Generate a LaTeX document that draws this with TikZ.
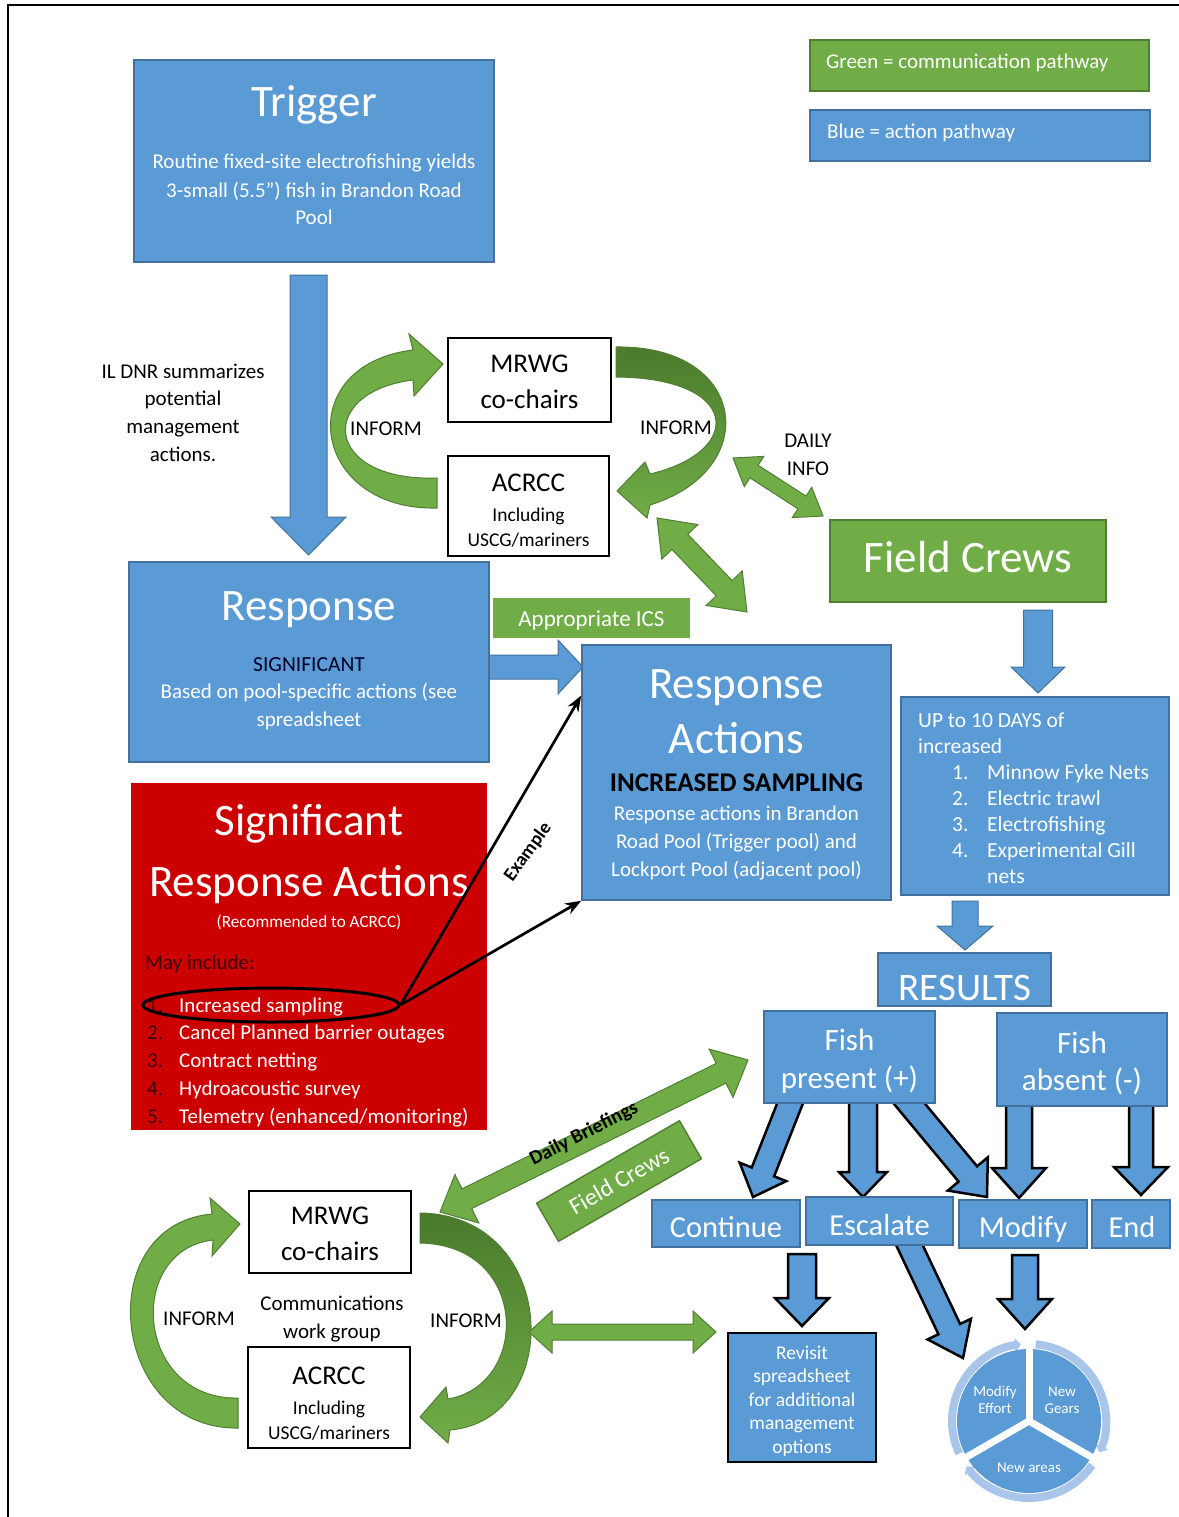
\documentclass[tikz,border=0pt]{standalone}
\usepackage{fontspec}
\setmainfont{Carlito}
\usetikzlibrary{calc,fit,arrows.meta,shapes.geometric}
\definecolor{bfill}{HTML}{5B9BD5}
\definecolor{bline}{HTML}{41719C}
\definecolor{gfill}{HTML}{70AD47}
\definecolor{gline}{HTML}{507E32}
\definecolor{gdark}{HTML}{4A7A2C}
\definecolor{rfill}{HTML}{CC0000}
\definecolor{ringc}{HTML}{A9C5EA}
\definecolor{darkt}{HTML}{3A0808}
\newcommand\fs[1]{\fontsize{#1}{#1}\selectfont}
% block arrow: style, from, to, shaft half width, head half width, head length
\newcommand\fatarrow[6]{%
 \coordinate (fac) at ($(#3)!#6!(#2)$);
 \path[#1] ($(#2)!#4!90:(#3)$) -- ($(fac)!#4!-90:(#2)$) -- ($(fac)!#5!-90:(#2)$) -- (#3) -- ($(fac)!#5!90:(#2)$) -- ($(fac)!#4!90:(#2)$) -- ($(#2)!#4!-90:(#3)$) -- cycle;}
\newcommand\dblarrow[6]{%
 \coordinate (fac) at ($(#3)!#6!(#2)$);
 \coordinate (fad) at ($(#2)!#6!(#3)$);
 \path[#1] (#2) -- ($(fad)!#5!90:(#3)$) -- ($(fad)!#4!90:(#3)$) -- ($(fac)!#4!-90:(#2)$) -- ($(fac)!#5!-90:(#2)$) -- (#3) -- ($(fac)!#5!90:(#2)$) -- ($(fac)!#4!90:(#2)$) -- ($(fad)!#4!-90:(#3)$) -- ($(fad)!#5!-90:(#3)$) -- cycle;}
% text lines: name, x, first baseline y, line step, style, lines
\newcommand\tl[6]{\foreach \tline [count=\ti from 0] in {#6} {\node[#5] (#1\ti) at (#2,{#3+\ti*#4}) {\tline};}}
\tikzset{
 bluebox/.style={fill=bfill, draw=bline, line width=1.6pt, inner sep=0pt},
 greenbox/.style={fill=gfill, draw=gline, line width=1.4pt, inner sep=0pt},
 whitebox/.style={fill=white, draw=black, line width=2pt, inner sep=0pt},
 redbox/.style={fill=rfill, inner sep=0pt},
 revbox/.style={fill=bfill, draw=black, line width=2.5pt, inner sep=0pt},
 txt/.style={inner sep=0pt, anchor=base},
 wt/.style={txt, text=white},
 bt/.style={txt, text=black},
 barrow/.style={fill=bfill, draw=bline, line width=1pt},
 karrow/.style={fill=bfill, draw=black, line width=2.5pt, line join=miter},
 garrow/.style={fill=gfill, draw=gline, line width=1pt},
 garrowd/.style={top color=gdark, bottom color=gfill, draw=gline, line width=1pt},
 pointer/.style={draw=black, line width=2.7pt, -{Stealth[length=16pt,width=12pt]}},
 ringarc/.style={draw=ringc, line width=8pt, -{Triangle[length=6pt,width=14pt]}}
}
\begin{document}
\begin{tikzpicture}[x=1pt,y=-1pt]
\useasboundingbox (0,0) rectangle (1178,1517);
\draw[line width=2pt] (8,1520) -- (8,5) -- (1180,5);

% ---------- legend
\node[greenbox, fit={(810,40) (1149,91)}] (lg) {};
\node[wt, anchor=base west, font=\fs{21}] (lgt) at (826,69) {Green = communication pathway};
\node[bluebox, fit={(810,110) (1150,161)}] (lb) {};
\node[wt, anchor=base west, font=\fs{21}] (lbt) at (827,139) {Blue = action pathway};

% ---------- blue block arrows (under boxes)
\fatarrow{barrow}{308.5,275}{308.5,555}{18.5pt}{37.5pt}{38pt}
\fatarrow{barrow}{480,667}{583,667}{12pt}{27pt}{25pt}
\fatarrow{barrow}{1038,610}{1038,693}{14.5pt}{27pt}{26pt}
\fatarrow{barrow}{965,901}{965,950}{13pt}{28pt}{24pt}

\fatarrow{karrow}{793,1096}{753,1197}{12pt}{25pt}{27pt}
\fatarrow{karrow}{863,1096}{863,1197}{14pt}{24pt}{25pt}
\fatarrow{karrow}{903,1096}{987,1197}{12pt}{26pt}{30pt}
\fatarrow{karrow}{1019,1098}{1019,1198}{13pt}{27pt}{30pt}
\fatarrow{karrow}{1141,1098}{1141,1195}{12pt}{27pt}{28pt}
\fatarrow{karrow}{906,1238}{963,1358}{12pt}{24pt}{32pt}

% ---------- Trigger
\node[bluebox, fit={(134,60) (494,262)}] (trig) {};
\node[wt, font=\fs{45}] (trigt) at (314,117) {Trigger};
\tl{trigb}{314}{169}{28}{wt, font=\fs{21}}{Routine fixed-site electrofishing yields, 3-small (5.5”) fish in Brandon Road, Pool}

\tl{ildnr}{183}{378}{27.7}{bt, font=\fs{21}}{IL DNR summarizes, potential, management, actions.}

% ---------- top communication cycle
\path[garrow] (437,478) -- (437,508) .. controls (310,511) and (290,365) .. (413,350) -- (409,334) -- (443,364) -- (414,396) -- (413,380) .. controls (316,392) and (323,482) .. (437,478) -- cycle;
\path[garrowd] (616,347) .. controls (748,345) and (763,470) .. (650,505) -- (647,518) -- (617,491) -- (645,462) -- (650,474) .. controls (744,452) and (742,378) .. (616,377) -- cycle;

\node[whitebox, fit={(448,338) (611,422)}] (mrwg1) {};
\node[bt, font=\fs{27}] (mrwg1a) at (529.5,372) {MRWG};
\node[bt, font=\fs{27}] (mrwg1b) at (529.5,408) {co-chairs};
\node[whitebox, fit={(448,456) (609,556)}] (acrcc1) {};
\node[bt, font=\fs{27}] (acrcc1a) at (528.5,491) {ACRCC};
\node[bt, font=\fs{19.5}] (acrcc1b) at (528.5,521) {Including};
\node[bt, font=\fs{19.5}] (acrcc1c) at (528.5,546) {USCG/mariners};

\node[bt, font=\fs{21}] (inf1) at (386,435) {INFORM};
\node[bt, font=\fs{21}] (inf2) at (676,434) {INFORM};
\node[bt, font=\fs{21}] (daily1) at (808,447) {DAILY};
\node[bt, font=\fs{21}] (daily2) at (808,475) {INFO};

\dblarrow{garrow}{733,458}{823,516}{7.5pt}{18pt}{25pt}
\dblarrow{garrow}{657,518}{747,612}{11pt}{25pt}{33pt}

% ---------- Field crews
\node[greenbox, fit={(830,520) (1106,602)}] (fc) {};
\node[wt, font=\fs{45}] (fct) at (968,572) {Field Crews};

% ---------- Response
\node[bluebox, fit={(129,562) (489,762)}] (resp) {};
\node[wt, font=\fs{45}] (respt) at (309,620) {Response};
\node[txt, text=black!85!blue, font=\fs{21.5}] (resps) at (309,671) {SIGNIFICANT};
\tl{respb}{309}{698}{28}{wt, font=\fs{21}}{Based on pool-specific actions (see, spreadsheet}

\node[greenbox, draw=none, fit={(493,598) (690,638)}] (ics) {};
\node[wt, font=\fs{23}] (icst) at (591.5,626) {Appropriate ICS};

% ---------- Response Actions
\node[bluebox, fit={(582,645) (891,900)}] (ra) {};
\node[wt, font=\fs{45}] (rat1) at (736.5,698) {Response};
\node[wt, font=\fs{45}] (rat2) at (736.5,753) {Actions};
\node[bt, font=\bfseries\fs{27}] (ras) at (736.5,791) {INCREASED SAMPLING};
\tl{rab}{736.5}{820}{28}{wt, font=\fs{21}}{Response actions in Brandon, Road Pool (Trigger pool) and, Lockport Pool (adjacent pool)}

% ---------- Up to 10 days
\node[bluebox, fit={(901,697) (1169,895)}] (up) {};
\tl{upa}{918}{727}{26}{wt, anchor=base west, font=\fs{21.5}}{UP to 10 DAYS of, increased}
\tl{upn}{952}{779}{26}{wt, anchor=base west, font=\fs{21.5}}{1., 2., 3., 4.}
\tl{upi}{987}{779}{26}{wt, anchor=base west, font=\fs{21.5}}{Minnow Fyke Nets, Electric trawl, Electrofishing, Experimental Gill, nets}

% ---------- Significant response actions (red)
\node[redbox, fit={(131,783) (487,1130)}] (sra) {};
\begin{scope}
\clip (131,783) rectangle (487,1130);
\node[wt, font=\fs{45}] (srat1) at (309,835) {Significant};
\node[wt, font=\fs{45}] (srat2) at (309,896) {Response Actions};
\node[wt, font=\fs{17.2}] (srar) at (309,927) {(Recommended to ACRCC)};
\node[txt, text=darkt, anchor=base west, font=\fs{21}] (sram) at (145,969) {May include:};
\tl{sran}{147}{1012}{27.8}{txt, text=darkt, anchor=base west, font=\fs{21}}{1., 2., 3., 4., 5.}
\tl{srai}{179}{1012}{27.8}{wt, anchor=base west, font=\fs{21}}{Increased sampling, Cancel Planned barrier outages, Contract netting, Hydroacoustic survey, Telemetry (enhanced/monitoring)}
\end{scope}

\node[draw=black, ellipse, line width=3pt, minimum width=256pt, minimum height=34pt, inner sep=0pt] (oval) at (271,1005) {};
\draw[pointer] (oval.east) -- ($(ra.north west)!0.2!(ra.south west)$);
\draw[pointer] (oval.east) -- (ra.south west);
\node[bt, anchor=center, font=\bfseries\fs{19}, rotate=54] (ex) at (528,852) {Example};

% ---------- Results
\node[bluebox, fit={(878,953) (1051,1006)}] (res) {};
\node[wt, font=\fs{39}] (rest) at (965,1000) {RESULTS};
\node[bluebox, fit={(764,1011) (935,1103)}] (fp) {};
\node[wt, font=\fs{31}] (fp1) at (849.5,1050) {Fish};
\node[wt, font=\fs{31}] (fp2) at (849.5,1088) {present (+)};
\node[bluebox, fit={(997,1013) (1167,1106)}] (fa) {};
\node[wt, font=\fs{31}] (fa1) at (1082,1053) {Fish};
\node[wt, font=\fs{31}] (fa2) at (1082,1090) {absent (-)};

\node[bluebox, fit={(652,1200) (800,1247)}] (cont) {};
\node[wt, font=\fs{30.5}] (contt) at (726,1237) {Continue};
\node[bluebox, fit={(806,1197) (953,1245)}] (esc) {};
\node[wt, font=\fs{30.5}] (esct) at (879.5,1235) {Escalate};
\node[bluebox, fit={(959,1200) (1087,1248)}] (mod) {};
\node[wt, font=\fs{30.5}] (modt) at (1023,1237) {Modify};
\node[bluebox, fit={(1092,1200) (1170,1248)}] (endb) {};
\node[wt, font=\fs{30.5}] (endt) at (1132,1237) {End};

\fatarrow{karrow}{802,1254}{802,1326}{14pt}{27pt}{28pt}
\fatarrow{karrow}{1025,1255}{1025,1329}{13pt}{27pt}{30pt}

% ---------- Revisit
\node[revbox, fit={(728,1333) (876,1462)}] (rev) {};
\tl{revt}{802}{1359}{23.5}{wt, font=\fs{19.5}}{Revisit, spreadsheet, for additional, management, options}

% ---------- cycle pie
\node[circle, minimum size=162pt, inner sep=0pt] (pie) at (1029,1421) {};
\foreach \s/\e in {-85/24, 35/144, 155/264}
  \draw[ringarc] ($(pie.center)+(\s:77)$) arc[start angle=\s, end angle=\e, radius=77];
\fill[bfill] (pie.center) circle[radius=72];
\foreach \a in {-90,30,150} \draw[white, line width=7pt] (pie.center) -- ++(\a:74);
\node[wt, font=\fs{15}] (pm1) at (995,1396) {Modify};
\node[wt, font=\fs{15}] (pm2) at (995,1413) {Effort};
\node[wt, font=\fs{15}] (pg1) at (1062,1396) {New};
\node[wt, font=\fs{15}] (pg2) at (1062,1413) {Gears};
\node[wt, font=\fs{15}] (pa) at (1029,1472) {New areas};

% ---------- bottom communication cycle
\path[garrow] (238,1398) -- (238,1428) .. controls (110,1430) and (90,1225) .. (212,1214) -- (210,1198) -- (240,1224) -- (212,1256) -- (213,1240) .. controls (125,1250) and (135,1400) .. (238,1398) -- cycle;
\path[garrowd] (420,1213) .. controls (560,1215) and (565,1420) .. (450,1430) -- (448,1443) -- (420,1417) -- (446,1387) -- (448,1399) .. controls (530,1385) and (530,1245) .. (420,1243) -- cycle;

\node[whitebox, fit={(249,1191) (411,1273)}] (mrwg2) {};
\node[bt, font=\fs{27}] (mrwg2a) at (330,1224) {MRWG};
\node[bt, font=\fs{27}] (mrwg2b) at (330,1260) {co-chairs};
\node[whitebox, fit={(248,1347) (410,1448)}] (acrcc2) {};
\node[bt, font=\fs{27}] (acrcc2a) at (329,1384) {ACRCC};
\node[bt, font=\fs{19.5}] (acrcc2b) at (329,1414) {Including};
\node[bt, font=\fs{19.5}] (acrcc2c) at (329,1439) {USCG/mariners};
\node[bt, font=\fs{21}] (cwg1) at (332,1310) {Communications};
\node[bt, font=\fs{21}] (cwg2) at (332,1338) {work group};
\node[bt, font=\fs{21}] (inf3) at (199,1325) {INFORM};
\node[bt, font=\fs{21}] (inf4) at (466,1327) {INFORM};

\dblarrow{garrow}{529,1332}{716,1332}{8pt}{21pt}{23pt}
\dblarrow{garrow}{440,1212}{748,1060}{11pt}{27pt}{30pt}
\node[bt, anchor=center, font=\bfseries\fs{20}, rotate=27] (db) at (584,1134) {Daily Briefings};
\node[greenbox, rotate=30, minimum width=165pt, minimum height=44pt, text=white, font=\fs{24}] (fc2) at (619,1181) {Field Crews};
\end{tikzpicture}
\end{document}
